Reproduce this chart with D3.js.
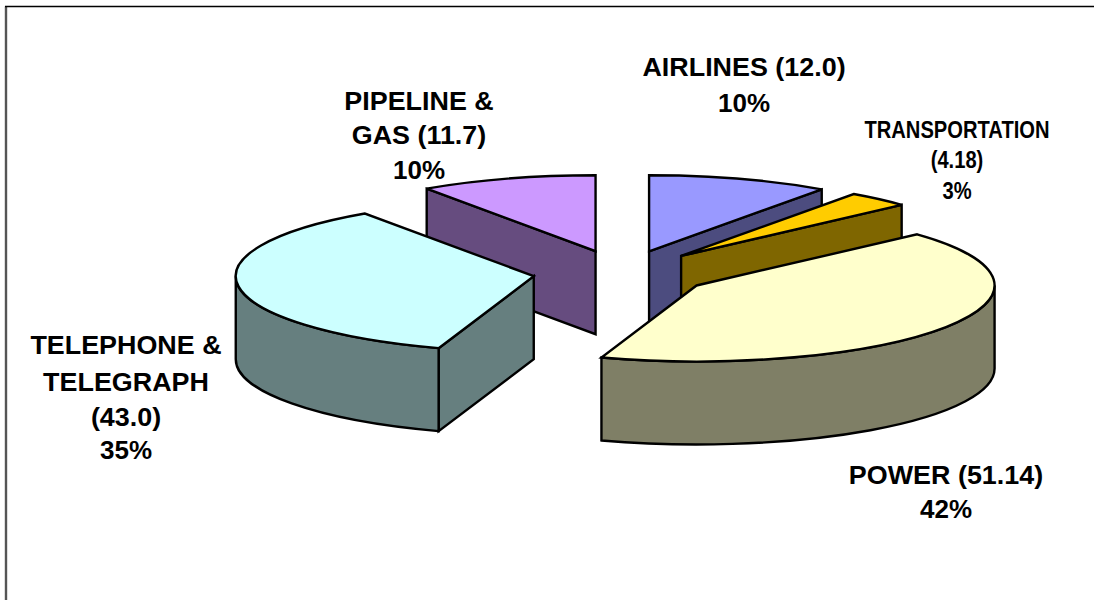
<!DOCTYPE html>
<html>
<head>
<meta charset="utf-8">
<script src="https://cdnjs.cloudflare.com/ajax/libs/d3/7.8.5/d3.min.js"></script>
<style>
html,body{margin:0;padding:0;background:#fff}
svg{display:block}
text{font-family:"Liberation Sans",Arial,sans-serif;font-weight:bold;fill:#000;text-anchor:middle}
</style>
</head>
<body>
<svg id="chart" width="1094" height="600"></svg>
<script>
const categories = ["AIRLINES", "TRANSPORTATION", "POWER", "TELEPHONE & TELEGRAPH", "PIPELINE & GAS"];
const values = [12.0, 4.18, 51.14, 43.0, 11.7];
const topColors = ["#9999ff", "#ffcc00", "#ffffcc", "#ccffff", "#cc99ff"];
const sideColors = ["#4c4c7f", "#7f6600", "#7f7f66", "#667f7f", "#664c7f"];
const labelLines = [
  ["AIRLINES (12.0)", "10%"],
  ["TRANSPORTATION", "(4.18)", "3%"],
  ["POWER (51.14)", "42%"],
  ["TELEPHONE &", "TELEGRAPH", "(43.0)", "35%"],
  ["PIPELINE &", "GAS (11.7)", "10%"]
];
const labelX = [744, 957, 946, 126, 419];
const labelY = [
  [75, 111],
  [138, 168, 199],
  [483, 517],
  [353, 390, 425, 458],
  [109, 143, 178]
];

const W = 1094, H = 600;
const cx = 622, cy = 273, rx = 298, ry = 76, depth = 83, explode = 0.3;
const k = ry / rx;
const svg = d3.select("#chart");

svg.append("path").attr("d", `M6,${H}V6.5`).attr("fill","none").attr("stroke","#555").attr("stroke-width",2.4);
svg.append("path").attr("d", `M5,6.5H${W}`).attr("fill","none").attr("stroke","#000").attr("stroke-width",1.4);

const pie = d3.pie().value(d => d).sort(null);
const arcs = pie(values);
const arcGen = d3.arc().innerRadius(0).outerRadius(rx);

const offX = d3.scaleLinear().domain([-1, 1]).range([-explode * 297, explode * 297]);
const offY = d3.scaleLinear().domain([-1, 1]).range([-explode * ry, explode * ry]);
const scr = a => a - Math.PI / 2;

const order = [4, 0, 1, 3, 2];
const style = sel => sel.attr("stroke", "#000").attr("stroke-width", 2.4)
  .attr("stroke-linejoin", "miter").attr("stroke-miterlimit", 3)
  .attr("vector-effect", "non-scaling-stroke");

order.forEach(i => {
  const d = arcs[i];
  const mid = (d.startAngle + d.endAngle) / 2;
  const ax = cx + offX(Math.sin(mid)), ay = cy - offY(Math.cos(mid));
  const g = svg.append("g").attr("transform", `translate(${ax},${ay}) scale(1,${k})`);
  const dz = depth / k;

  const cuts = [];
  if (d.startAngle > Math.PI) cuts.push(d.startAngle);
  if (d.endAngle < Math.PI) cuts.push(d.endAngle);
  cuts.forEach(a => {
    const px = rx * Math.sin(a), py = -rx * Math.cos(a);
    const p = d3.path();
    p.moveTo(0, 0); p.lineTo(px, py); p.lineTo(px, py + dz); p.lineTo(0, dz); p.closePath();
    g.append("path").attr("d", p.toString()).attr("fill", sideColors[i]).call(style);
  });

  const a0 = Math.max(d.startAngle, Math.PI / 2), a1 = Math.min(d.endAngle, 3 * Math.PI / 2);
  if (a1 > a0) {
    const p = d3.path();
    p.arc(0, 0, rx, scr(a0), scr(a1));
    p.lineTo(rx * Math.sin(a1), -rx * Math.cos(a1) + dz);
    p.arc(0, dz, rx, scr(a1), scr(a0), true);
    p.closePath();
    g.append("path").attr("d", p.toString()).attr("fill", sideColors[i]).call(style);
  }

  g.append("path").attr("d", arcGen(d)).attr("fill", topColors[i]).call(style);
});

labelLines.forEach((lines, i) => {
  lines.forEach((t, j) => {
    const isPct = j === lines.length - 1;
    const size = i === 1 ? 24 : 26;
    const sx = i === 1 ? 0.84 : (isPct ? 1.0 : 1.035);
    svg.append("text").attr("x", 0).attr("y", 0)
      .attr("font-size", size)
      .attr("transform", `translate(${labelX[i]},${labelY[i][j] + (i === 1 ? 0 : 0.5)}) scale(${sx},1)`)
      .text(t);
  });
});
</script>
</body>
</html>
